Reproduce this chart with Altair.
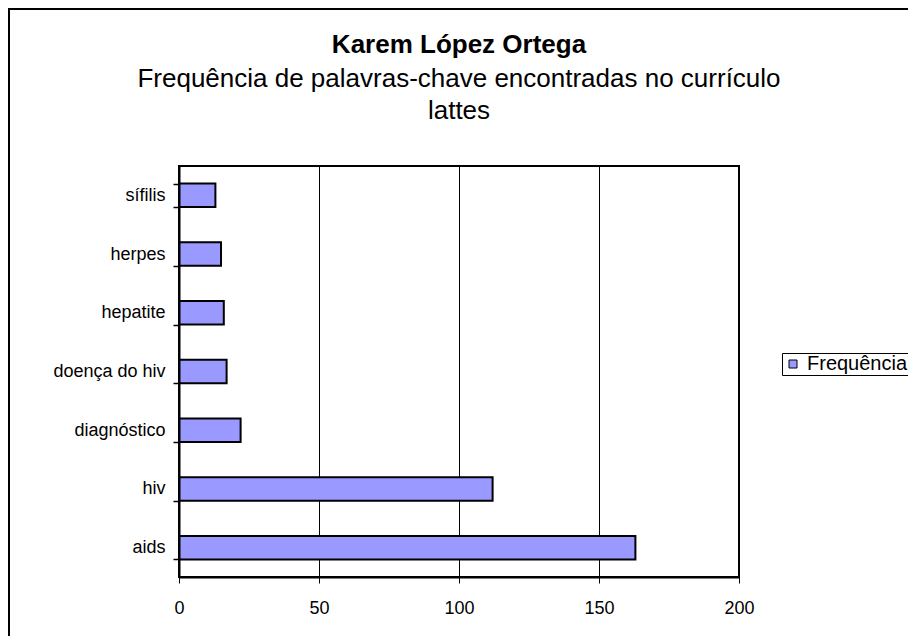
import altair as alt
import pandas as pd

categories = ["sífilis", "herpes", "hepatite", "doença do hiv", "diagnóstico", "hiv", "aids"]
values = [13, 15, 16, 17, 22, 112, 163]
series = ["Frequência"] * len(categories)
x_ticks = [0, 50, 100, 150, 200]
title_text = "Karem López Ortega"
subtitle_lines = ["Frequência de palavras-chave encontradas no currículo", "lattes"]

df = pd.DataFrame({"palavra": categories, "freq": values, "serie": series})
one = pd.DataFrame({"k": [0]})

FONT = "Liberation Sans"

border = alt.Chart(one).mark_rect(
    fill="white", fillOpacity=0, stroke="black", strokeWidth=2
).encode(
    x=alt.value(-170), x2=alt.value(1000),
    y=alt.value(-157), y2=alt.value(1000),
)

t1 = alt.Chart(one).mark_text(
    font=FONT, fontSize=26, fontWeight="bold", color="black", align="center", baseline="alphabetic"
).encode(x=alt.value(280), y=alt.value(-113), text=alt.value(title_text))
t2 = alt.Chart(one).mark_text(
    font=FONT, fontSize=26, color="black", align="center", baseline="alphabetic"
).encode(x=alt.value(280), y=alt.value(-79), text=alt.value(subtitle_lines[0]))
t3 = alt.Chart(one).mark_text(
    font=FONT, fontSize=26, color="black", align="center", baseline="alphabetic"
).encode(x=alt.value(280), y=alt.value(-47), text=alt.value(subtitle_lines[1]))

bars = alt.Chart(df).mark_bar(stroke="black", strokeWidth=2).encode(
    y=alt.Y(
        "palavra:N", sort=categories,
        scale=alt.Scale(paddingInner=0.6, paddingOuter=0.3),
        axis=alt.Axis(
            title=None, tickBand="extent", tickSize=6, tickColor="black", tickWidth=1.5,
            domain=True, domainColor="black", domainWidth=2, labelFont=FONT, labelFontSize=18,
            labelColor="black", labelPadding=8, grid=False, zindex=1,
        ),
    ),
    x=alt.X(
        "freq:Q",
        scale=alt.Scale(domain=[0, 200], nice=False),
        axis=alt.Axis(
            title=None, values=x_ticks, tickSize=6, tickColor="black",
            domainColor="black", domainWidth=2, labelFont=FONT, labelFontSize=18,
            labelColor="black", labelPadding=16, labelFlush=False, grid=True, gridColor="black",
            gridWidth=1, gridOpacity=1,
        ),
    ),
    color=alt.Color(
        "serie:N",
        scale=alt.Scale(range=["#9999FF"]),
        legend=alt.Legend(
            title=None, orient="none", legendX=603, legendY=187,
            symbolType="square", symbolSize=64, symbolStrokeColor="black",
            symbolStrokeWidth=1, symbolOpacity=1,
            labelFont=FONT, labelFontSize=20, labelColor="black",
            strokeColor="black", fillColor="white", padding=1,
        ),
    ),
)

axis_line = alt.Chart(one).mark_rule(color="black", strokeWidth=2).encode(
    x=alt.datum(0)
)

chart = alt.layer(border, t1, t2, t3, bars, axis_line).properties(
    width=560,
    height=411,
    autosize=alt.AutoSizeParams(type="none"),
    padding={"left": 171, "top": 158, "right": 169, "bottom": 59},
).configure_view(stroke="black", strokeWidth=2)

chart.save("out.html", embed_options={"renderer": "svg", "actions": False})
